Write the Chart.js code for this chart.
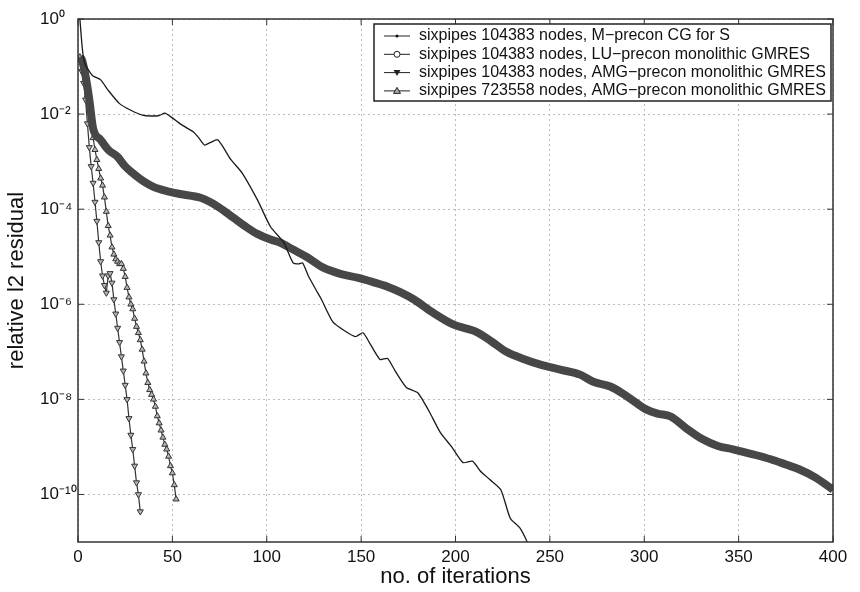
<!DOCTYPE html>
<html>
<head>
<meta charset="utf-8">
<script src="https://cdn.jsdelivr.net/npm/chart.js@4.4.0/dist/chart.umd.min.js"></script>
<style>
  html, body { margin: 0; padding: 0; background: #fff; }
</style>
</head>
<body>
<canvas id="graficoResiduo" width="860" height="592"></canvas>
<script>
// valores: iteracao e log10 do residuo relativo
var rotulos = [
    'sixpipes 104383 nodes, M\u2212precon CG for S',
    'sixpipes 104383 nodes, LU\u2212precon monolithic GMRES',
    'sixpipes 104383 nodes, AMG\u2212precon monolithic GMRES',
    'sixpipes 723558 nodes, AMG\u2212precon monolithic GMRES'
];

var cgIteracoes = [1, 2, 3, 4, 6, 8, 12, 16, 22, 28, 34, 39, 43, 46, 50, 54, 58, 61, 64, 67, 70, 74, 77, 81, 87, 95, 102, 109, 114, 117, 119, 122, 127, 129, 135, 141, 147, 151, 155, 160, 164, 168, 174, 180, 186, 192, 198, 204, 209, 213, 218, 224, 229, 234, 238, 241];
var cgLogResiduo = [0, -0.5, -0.85, -0.97, -1.1, -1.2, -1.28, -1.5, -1.78, -1.92, -2.02, -2.04, -2.03, -1.98, -2.08, -2.2, -2.3, -2.37, -2.5, -2.65, -2.6, -2.54, -2.7, -2.96, -3.24, -3.8, -4.37, -4.7, -5.13, -5.15, -5.13, -5.4, -5.76, -5.9, -6.37, -6.55, -6.68, -6.6, -6.85, -7.16, -7.14, -7.4, -7.75, -7.86, -8.25, -8.7, -9.0, -9.33, -9.3, -9.5, -9.68, -9.9, -10.5, -10.7, -11.0, -11.3];

var luIteracoes = [1, 2, 4, 6, 8, 12, 16, 21, 25, 29, 35, 40, 47, 54, 65, 70, 75, 82, 89, 95, 102, 107, 114, 121, 130, 139, 148, 156, 164, 171, 178, 187, 199, 211, 219, 227, 236, 245, 256, 266, 273, 282, 291, 301, 307, 314, 322, 331, 339, 347, 357, 367, 375, 382, 391, 400];
var luLogResiduo = [-0.8, -0.85, -1.2, -1.7, -2.3, -2.54, -2.75, -2.9, -3.1, -3.24, -3.42, -3.53, -3.62, -3.68, -3.76, -3.85, -3.97, -4.17, -4.37, -4.52, -4.64, -4.7, -4.85, -5.0, -5.23, -5.36, -5.44, -5.53, -5.63, -5.75, -5.9, -6.15, -6.43, -6.58, -6.78, -7.0, -7.15, -7.27, -7.38, -7.48, -7.63, -7.73, -7.94, -8.21, -8.3, -8.36, -8.6, -8.84, -8.98, -9.05, -9.15, -9.26, -9.37, -9.47, -9.65, -9.9];

// uma leitura por iteracao, a partir da iteracao 1
var amgPequenoLogResiduo = [-0.86, -1.1, -1.35, -1.7, -2.2, -2.7, -3.1, -3.45, -3.85, -4.25, -4.7, -5.1, -5.4, -5.6, -5.76, -5.4, -5.35, -5.55, -5.9, -6.2, -6.5, -6.8, -7.1, -7.4, -7.7, -8.0, -8.4, -8.75, -9.05, -9.4, -9.75, -10.0, -10.36];
var amgGrandeLogResiduo = [-0.8, -0.86, -1.1, -1.35, -1.6, -1.9, -2.2, -2.5, -2.75, -2.96, -3.15, -3.35, -3.5, -3.75, -4.05, -4.35, -4.55, -4.8, -4.95, -5.05, -5.1, -5.15, -5.15, -5.25, -5.42, -5.65, -5.85, -6.0, -6.1, -6.3, -6.47, -6.6, -6.75, -6.95, -7.2, -7.45, -7.65, -7.8, -7.9, -8.0, -8.15, -8.35, -8.5, -8.65, -8.8, -8.95, -9.05, -9.2, -9.4, -9.55, -9.8, -10.1];

var xTicks = [0, 50, 100, 150, 200, 250, 300, 350, 400];
var yExpoentes = [-10, -8, -6, -4, -2, 0];

var fonte = '"Liberation Sans", Arial, Helvetica, sans-serif';

function pontos(iteracoes, logs)
{
    var lista = [];
    for (var i = 0; i < logs.length; i++) {
        lista.push({ x: iteracoes ? iteracoes[i] : i + 1, y: Math.pow(10, logs[i]) });
    }
    return lista;
}

function expoente(valor)
{
    var sup = { '0': '\u2070', '1': '\u00b9', '2': '\u00b2', '3': '\u00b3', '4': '\u2074', '5': '\u2075', '6': '\u2076', '7': '\u2077', '8': '\u2078', '9': '\u2079', '-': '\u207b' };
    var e = String(Math.round(Math.log10(valor)));
    var s = '';
    for (var i = 0; i < e.length; i++) s += sup[e[i]];
    return '10' + s;
}

function desenharMarcador(ctx, tipo, x, y)
{
    ctx.save();
    ctx.lineWidth = 1;
    ctx.strokeStyle = '#222';
    ctx.fillStyle = '#aaa';
    ctx.beginPath();
    if (tipo == 'ponto') {
        ctx.fillStyle = '#111';
        ctx.arc(x, y, 1.5, 0, Math.PI * 2);
        ctx.fill();
    } else if (tipo == 'circulo') {
        ctx.fillStyle = '#fff';
        ctx.arc(x, y, 3, 0, Math.PI * 2);
        ctx.fill();
        ctx.stroke();
    } else if (tipo == 'baixo') {
        ctx.moveTo(x - 3.5, y - 2.5);
        ctx.lineTo(x + 3.5, y - 2.5);
        ctx.lineTo(x, y + 3.5);
        ctx.closePath();
        ctx.fillStyle = '#222';
        ctx.fill();
    } else {
        ctx.moveTo(x - 3.5, y + 2.5);
        ctx.lineTo(x + 3.5, y + 2.5);
        ctx.lineTo(x, y - 3.5);
        ctx.closePath();
        ctx.fill();
        ctx.stroke();
    }
    ctx.restore();
}

// moldura, marcas internas e legenda no estilo do MATLAB
var molduraPlugin = {
    id: 'moldura',
    afterDraw: function(chart) {
        var ctx = chart.ctx;
        var a = chart.chartArea;
        var sx = chart.scales.x;
        var sy = chart.scales.y;
        ctx.save();
        ctx.strokeStyle = '#333';
        ctx.lineWidth = 1.5;
        ctx.strokeRect(a.left, a.top, a.right - a.left, a.bottom - a.top);
        ctx.lineWidth = 1;
        ctx.beginPath();
        sx.ticks.forEach(function(t) {
            var px = sx.getPixelForValue(t.value);
            ctx.moveTo(px, a.bottom); ctx.lineTo(px, a.bottom - 6);
            ctx.moveTo(px, a.top); ctx.lineTo(px, a.top + 6);
        });
        sy.ticks.forEach(function(t) {
            var py = sy.getPixelForValue(t.value);
            ctx.moveTo(a.left, py); ctx.lineTo(a.left + 6, py);
            ctx.moveTo(a.right, py); ctx.lineTo(a.right - 6, py);
        });
        ctx.stroke();

        // legenda
        var lx = 374, ly = 24, lw = 457, lh = 77;
        ctx.fillStyle = '#fff';
        ctx.fillRect(lx, ly, lw, lh);
        ctx.strokeStyle = '#222';
        ctx.lineWidth = 1.5;
        ctx.strokeRect(lx, ly, lw, lh);
        var tipos = ['ponto', 'circulo', 'baixo', 'cima'];
        ctx.font = '16px ' + fonte;
        ctx.textBaseline = 'middle';
        ctx.textAlign = 'left';
        chart.data.datasets.forEach(function(ds, i) {
            var y = 36 + i * 18.3;
            ctx.strokeStyle = '#222';
            ctx.lineWidth = 1;
            ctx.beginPath();
            ctx.moveTo(384, y); ctx.lineTo(410, y);
            ctx.stroke();
            desenharMarcador(ctx, tipos[i], 397, y);
            ctx.fillStyle = '#111';
            ctx.fillText(ds.label, 419, y);
        });
        ctx.restore();
    }
};

var data = {
    datasets: [
        {
            label: rotulos[0],
            data: pontos(cgIteracoes, cgLogResiduo),
            borderColor: '#1a1a1a',
            borderWidth: 1.3,
            pointRadius: 0,
            tension: 0.2
        },
        {
            label: rotulos[1],
            data: pontos(luIteracoes, luLogResiduo),
            borderColor: '#474747',
            borderWidth: 8,
            pointRadius: 0,
            cubicInterpolationMode: 'monotone'
        },
        {
            label: rotulos[2],
            data: pontos(null, amgPequenoLogResiduo),
            borderColor: '#333',
            borderWidth: 1.2,
            pointStyle: 'triangle',
            rotation: 180,
            pointRadius: 3.5,
            pointBorderWidth: 1,
            pointBorderColor: '#333',
            pointBackgroundColor: '#b5b5b5'
        },
        {
            label: rotulos[3],
            data: pontos(null, amgGrandeLogResiduo),
            borderColor: '#333',
            borderWidth: 1.2,
            pointStyle: 'triangle',
            pointRadius: 3.5,
            pointBorderWidth: 1,
            pointBorderColor: '#333',
            pointBackgroundColor: '#b5b5b5'
        }
    ]
};

var options = {
    responsive: false,
    animation: false,
    layout: { padding: { left: 40, top: 19, right: 27, bottom: 0 } },
    plugins: {
        legend: { display: false },
        tooltip: { enabled: false }
    },
    scales: {
        x: {
            type: 'linear',
            min: 0,
            max: 400,
            afterBuildTicks: function(scale) {
                scale.ticks = xTicks.map(function(v) { return { value: v }; });
            },
            afterFit: function(scale) { scale.height = 50; },
            ticks: {
                color: '#111',
                padding: 5,
                font: { family: fonte, size: 17 }
            },
            grid: { color: '#bcbcbc', lineWidth: 1, drawTicks: false },
            border: { display: false, dash: [2, 3] },
            title: {
                display: true,
                text: 'no. of iterations',
                color: '#111',
                padding: { top: 0, bottom: 2 },
                font: { family: fonte, size: 22 }
            }
        },
        y: {
            type: 'logarithmic',
            min: 1e-11,
            max: 1,
            afterBuildTicks: function(scale) {
                scale.ticks = yExpoentes.map(function(e) { return { value: Math.pow(10, e) }; });
            },
            afterFit: function(scale) { scale.width = 38; },
            ticks: {
                color: '#111',
                crossAlign: 'far',
                font: { family: fonte, size: 17 },
                callback: function(valor) { return expoente(valor); }
            },
            grid: { color: '#bcbcbc', lineWidth: 1, drawTicks: false },
            border: { display: false, dash: [2, 3] },
            title: {
                display: true,
                text: 'relative l2 residual',
                color: '#111',
                padding: { top: -36, bottom: 0 },
                font: { family: fonte, size: 22 }
            }
        }
    }
};

var ctx = document.getElementById('graficoResiduo');
var graficoResiduo = new Chart(ctx, {
    type: 'line',
    data: data,
    options: options,
    plugins: [molduraPlugin]
});
</script>
</body>
</html>
